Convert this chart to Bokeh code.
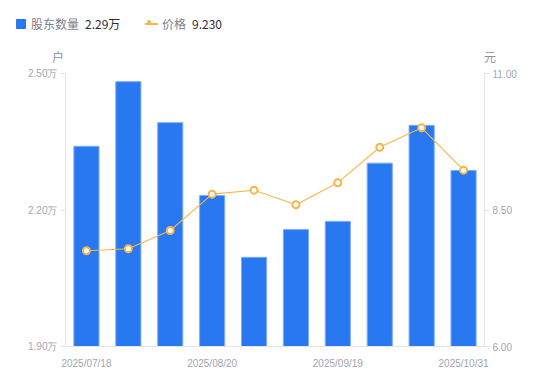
from bokeh.plotting import figure
from bokeh.models import Range1d, LinearAxis, FixedTicker, ColumnDataSource, Div
from bokeh.layouts import column
from bokeh.embed import file_html
from bokeh.resources import INLINE

# ---- data ----
dates = ["2025/07/18", "2025/07/31", "2025/08/10", "2025/08/20", "2025/08/31",
         "2025/09/10", "2025/09/19", "2025/09/30", "2025/10/20", "2025/10/31"]
shown_dates = ["2025/07/18", "2025/08/20", "2025/09/19", "2025/10/31"]
holders_wan = [2.340, 2.482, 2.392, 2.232, 2.096, 2.157, 2.175, 2.303, 2.386, 2.287]
price = [7.753, 7.790, 8.125, 8.790, 8.863, 8.595, 9.000, 9.650, 10.005, 9.230]
left_ticks = [1.90, 2.20, 2.50]
right_ticks = [6.00, 8.50, 11.00]
series_names = ["股东数量", "价格"]
units = ["户", "元"]

BLUE = "#2878f2"
ORANGE = "#f7b548"
AXIS = "#e3e4e8"
TICK_TXT = "#a2a5b3"
FONT = "Liberation Sans"
CJK = "Noto Sans CJK SC"

idx = list(range(len(dates)))
src = ColumnDataSource(dict(x=idx, h=holders_wan, p=price))

p = figure(width=550, height=316, x_range=Range1d(-0.5, len(dates) - 0.5),
           y_range=Range1d(left_ticks[0], left_ticks[-1]),
           output_backend="svg", toolbar_location=None,
           min_border_left=65, min_border_right=66, min_border_top=8,
           min_border_bottom=35, outline_line_color=None)
p.extra_y_ranges = {"price": Range1d(right_ticks[0], right_ticks[-1])}
p.xgrid.visible = False
p.ygrid.visible = False

bars = p.vbar(x="x", top="h", bottom=left_ticks[0], width=0.6, source=src,
              fill_color=BLUE, line_color="#7eacf5", line_width=1)
line = p.line(x="x", y="p", source=src, y_range_name="price",
              line_color=ORANGE, line_width=1.1)
pts = p.scatter(x="x", y="p", source=src, y_range_name="price", size=7,
                fill_color="white", line_color=ORANGE, line_width=2)

# axes
ya = p.yaxis[0]
ya.ticker = FixedTicker(ticks=left_ticks)
ya.major_label_overrides = {t: f"{t:.2f}万" for t in left_ticks}
ra = LinearAxis(y_range_name="price", ticker=FixedTicker(ticks=right_ticks))
ra.major_label_overrides = {t: f"{t:.2f}" for t in right_ticks}
p.add_layout(ra, "right")
for ax in (ya, ra):
    ax.axis_line_color = AXIS
    ax.major_tick_line_color = AXIS
    ax.major_tick_out = 5
    ax.major_tick_in = 0
    ax.minor_tick_line_color = None
    ax.major_label_text_color = TICK_TXT
    ax.major_label_text_font = FONT
    ax.major_label_text_font_size = "10px"
    ax.major_label_standoff = 3
xa = p.xaxis[0]
shown_idx = [dates.index(d) for d in shown_dates]
xa.ticker = FixedTicker(ticks=shown_idx)
xa.major_label_overrides = {i: dates[i] for i in shown_idx}
xa.axis_line_color = AXIS
xa.major_tick_line_color = None
xa.minor_tick_line_color = None
xa.major_label_text_color = TICK_TXT
xa.major_label_text_font = FONT
xa.major_label_text_font_size = "10px"
xa.major_label_standoff = 5

# legend + unit labels (HTML header above the plot)
val1 = f"{holders_wan[-1]:.2f}万"
val2 = f"{price[-1]:.3f}"
txt = "position:absolute;line-height:14px;white-space:nowrap;"
html = f"""
<div style="position:relative;width:550px;height:65px;font-family:'{CJK}';font-size:12px;">
  <span style="position:absolute;left:16px;top:19px;width:10px;height:10px;background:{BLUE};border-radius:1px;"></span>
  <span style="{txt}left:31px;top:17px;color:#7d808c;">{series_names[0]}</span>
  <span style="{txt}left:85px;top:17px;color:#2a2d38;">{val1}</span>
  <span style="position:absolute;left:145px;top:23px;width:13px;height:1.5px;background:{ORANGE};"></span>
  <span style="position:absolute;left:147px;top:20px;width:4px;height:4px;border:2px solid {ORANGE};background:white;border-radius:50%;"></span>
  <span style="{txt}left:162px;top:17px;color:#7d808c;">{series_names[1]}</span>
  <span style="{txt}left:192px;top:17px;color:#2a2d38;">{val2}</span>
  <span style="{txt}left:52px;top:50px;color:#8d909c;">{units[0]}</span>
  <span style="{txt}left:484px;top:50px;color:#8d909c;">{units[1]}</span>
</div>
"""
header = Div(text=html, width=550, height=65, margin=0)

layout = column(header, p, spacing=0)
open("out.html", "w").write(file_html(layout, INLINE))
